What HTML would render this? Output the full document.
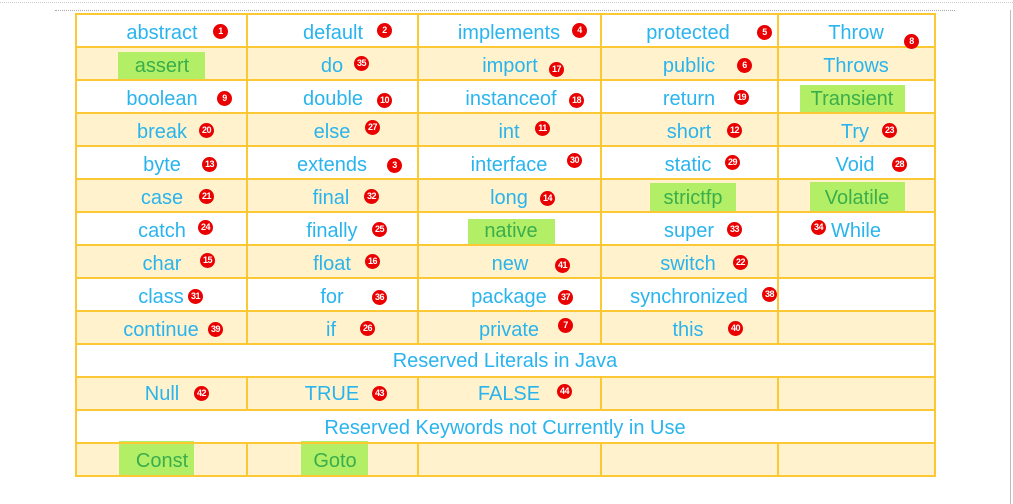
<!DOCTYPE html>
<html><head><meta charset="utf-8"><style>
body{margin:0;width:1013px;height:504px;background:#fff;position:relative;overflow:hidden;font-family:"Liberation Sans",sans-serif}
.r{position:absolute;left:75px;width:860px;height:33px;box-sizing:border-box}
.y{background:#fff2cc}
.h{position:absolute;left:75px;width:861px;height:2px;background:#fcc833}
.v{position:absolute;width:2px;background:#fcc833}
.t{position:absolute;font-size:20px;line-height:24px;color:#2ab4ee;white-space:nowrap;text-align:center}
.b{position:absolute;width:15px;height:15px;border-radius:50%;background:#ea0000;color:#fff;font-size:9px;font-weight:bold;text-align:center;line-height:15px;letter-spacing:-0.5px}
.g{position:absolute;background:#b3ef66}
.gt{color:#3aae4c}
</style></head><body>
<div style="position:absolute;left:55px;top:10px;width:900px;border-top:1px dotted #aaa"></div>
<div style="position:absolute;left:0;top:2px;width:1013px;border-top:1px dotted #ccc"></div>
<div style="position:absolute;left:1010px;top:10px;width:1px;height:494px;background:#bbb"></div>

<div class="r" style="top:14px"></div>
<div class="r y" style="top:47px"></div>
<div class="r" style="top:80px"></div>
<div class="r y" style="top:113px"></div>
<div class="r" style="top:146px"></div>
<div class="r y" style="top:179px"></div>
<div class="r" style="top:212px"></div>
<div class="r y" style="top:245px"></div>
<div class="r" style="top:278px"></div>
<div class="r y" style="top:311px"></div>
<div class="r" style="top:344px"></div>
<div class="r y" style="top:377px"></div>
<div class="r" style="top:410px"></div>
<div class="r y" style="top:443px"></div>

<!-- green highlights -->
<div class="g" style="left:118px;top:52px;width:87px;height:27px"></div>
<div class="g" style="left:800px;top:85px;width:105px;height:27px"></div>
<div class="g" style="left:650px;top:183px;width:86px;height:28px"></div>
<div class="g" style="left:810px;top:182px;width:95px;height:30px"></div>
<div class="g" style="left:468px;top:219px;width:87px;height:25px"></div>
<div class="g" style="left:119px;top:441px;width:75px;height:35px"></div>
<div class="g" style="left:301px;top:441px;width:67px;height:35px"></div>

<!-- horizontal lines -->
<div class="h" style="top:13px"></div><div class="h" style="top:46px"></div><div class="h" style="top:79px"></div>
<div class="h" style="top:112px"></div><div class="h" style="top:145px"></div><div class="h" style="top:178px"></div>
<div class="h" style="top:211px"></div><div class="h" style="top:244px"></div><div class="h" style="top:277px"></div>
<div class="h" style="top:310px"></div><div class="h" style="top:343px"></div><div class="h" style="top:376px"></div>
<div class="h" style="top:409px"></div><div class="h" style="top:442px"></div><div class="h" style="top:475px"></div>
<!-- vertical lines -->
<div class="v" style="left:75px;top:13px;height:464px"></div>
<div class="v" style="left:934px;top:13px;height:464px"></div>
<div class="v" style="left:246px;top:13px;height:331px"></div>
<div class="v" style="left:417px;top:13px;height:331px"></div>
<div class="v" style="left:600px;top:13px;height:331px"></div>
<div class="v" style="left:777px;top:13px;height:331px"></div>
<div class="v" style="left:246px;top:377px;height:33px"></div>
<div class="v" style="left:417px;top:377px;height:33px"></div>
<div class="v" style="left:600px;top:377px;height:33px"></div>
<div class="v" style="left:777px;top:377px;height:33px"></div>
<div class="v" style="left:246px;top:443px;height:33px"></div>
<div class="v" style="left:417px;top:443px;height:33px"></div>
<div class="v" style="left:600px;top:443px;height:33px"></div>
<div class="v" style="left:777px;top:443px;height:33px"></div>

<!-- row 1 -->
<div class="t" style="left:112px;width:100px;top:21px">abstract</div><div class="b" style="left:213px;top:24px">1</div>
<div class="t" style="left:283px;width:100px;top:21px">default</div><div class="b" style="left:377px;top:23px">2</div>
<div class="t" style="left:449px;width:120px;top:21px">implements</div><div class="b" style="left:572px;top:23px">4</div>
<div class="t" style="left:628px;width:120px;top:21px">protected</div><div class="b" style="left:757px;top:25px">5</div>
<div class="t" style="left:806px;width:100px;top:21px">Throw</div><div class="b" style="left:904px;top:34px">8</div>
<!-- row 2 -->
<div class="t gt" style="left:112px;width:100px;top:54px">assert</div>
<div class="t" style="left:302px;width:60px;top:54px">do</div><div class="b" style="left:354px;top:56px">35</div>
<div class="t" style="left:460px;width:100px;top:54px">import</div><div class="b" style="left:549px;top:62px">17</div>
<div class="t" style="left:639px;width:100px;top:54px">public</div><div class="b" style="left:737px;top:58px">6</div>
<div class="t" style="left:796px;width:120px;top:54px">Throws</div>
<!-- row 3 -->
<div class="t" style="left:112px;width:100px;top:87px">boolean</div><div class="b" style="left:217px;top:91px">9</div>
<div class="t" style="left:283px;width:100px;top:87px">double</div><div class="b" style="left:377px;top:93px">10</div>
<div class="t" style="left:451px;width:120px;top:87px">instanceof</div><div class="b" style="left:569px;top:93px">18</div>
<div class="t" style="left:639px;width:100px;top:87px">return</div><div class="b" style="left:734px;top:90px">19</div>
<div class="t gt" style="left:796px;width:112px;top:87px">Transient</div>
<!-- row 4 -->
<div class="t" style="left:112px;width:100px;top:120px">break</div><div class="b" style="left:199px;top:123px">20</div>
<div class="t" style="left:282px;width:100px;top:120px">else</div><div class="b" style="left:365px;top:120px">27</div>
<div class="t" style="left:459px;width:100px;top:120px">int</div><div class="b" style="left:535px;top:121px">11</div>
<div class="t" style="left:639px;width:100px;top:120px">short</div><div class="b" style="left:727px;top:123px">12</div>
<div class="t" style="left:805px;width:100px;top:120px">Try</div><div class="b" style="left:882px;top:123px">23</div>
<!-- row 5 -->
<div class="t" style="left:112px;width:100px;top:153px">byte</div><div class="b" style="left:202px;top:157px">13</div>
<div class="t" style="left:282px;width:100px;top:153px">extends</div><div class="b" style="left:387px;top:158px">3</div>
<div class="t" style="left:449px;width:120px;top:153px">interface</div><div class="b" style="left:567px;top:153px">30</div>
<div class="t" style="left:638px;width:100px;top:153px">static</div><div class="b" style="left:725px;top:155px">29</div>
<div class="t" style="left:805px;width:100px;top:153px">Void</div><div class="b" style="left:892px;top:157px">28</div>
<!-- row 6 -->
<div class="t" style="left:112px;width:100px;top:186px">case</div><div class="b" style="left:199px;top:189px">21</div>
<div class="t" style="left:281px;width:100px;top:186px">final</div><div class="b" style="left:364px;top:189px">32</div>
<div class="t" style="left:459px;width:100px;top:186px">long</div><div class="b" style="left:540px;top:191px">14</div>
<div class="t gt" style="left:643px;width:100px;top:186px">strictfp</div>
<div class="t gt" style="left:807px;width:100px;top:186px">Volatile</div>
<!-- row 7 -->
<div class="t" style="left:112px;width:100px;top:219px">catch</div><div class="b" style="left:198px;top:220px">24</div>
<div class="t" style="left:282px;width:100px;top:219px">finally</div><div class="b" style="left:372px;top:222px">25</div>
<div class="t gt" style="left:461px;width:100px;top:219px">native</div>
<div class="t" style="left:639px;width:100px;top:219px">super</div><div class="b" style="left:727px;top:222px">33</div>
<div class="b" style="left:811px;top:220px">34</div><div class="t" style="left:826px;width:60px;top:219px">While</div>
<!-- row 8 -->
<div class="t" style="left:112px;width:100px;top:252px">char</div><div class="b" style="left:200px;top:253px">15</div>
<div class="t" style="left:282px;width:100px;top:252px">float</div><div class="b" style="left:365px;top:254px">16</div>
<div class="t" style="left:460px;width:100px;top:252px">new</div><div class="b" style="left:555px;top:258px">41</div>
<div class="t" style="left:638px;width:100px;top:252px">switch</div><div class="b" style="left:733px;top:255px">22</div>
<!-- row 9 -->
<div class="t" style="left:111px;width:100px;top:285px">class</div><div class="b" style="left:188px;top:289px">31</div>
<div class="t" style="left:282px;width:100px;top:285px">for</div><div class="b" style="left:372px;top:290px">36</div>
<div class="t" style="left:449px;width:120px;top:285px">package</div><div class="b" style="left:558px;top:290px">37</div>
<div class="t" style="left:619px;width:140px;top:285px">synchronized</div><div class="b" style="left:762px;top:287px">38</div>
<!-- row 10 -->
<div class="t" style="left:111px;width:100px;top:318px">continue</div><div class="b" style="left:208px;top:322px">39</div>
<div class="t" style="left:281px;width:100px;top:318px">if</div><div class="b" style="left:360px;top:321px">26</div>
<div class="t" style="left:459px;width:100px;top:318px">private</div><div class="b" style="left:558px;top:318px">7</div>
<div class="t" style="left:638px;width:100px;top:318px">this</div><div class="b" style="left:728px;top:321px">40</div>
<!-- row 11 -->
<div class="t" style="left:75px;width:860px;top:349px">Reserved Literals in Java</div>
<!-- row 12 -->
<div class="t" style="left:112px;width:100px;top:382px">Null</div><div class="b" style="left:194px;top:386px">42</div>
<div class="t" style="left:282px;width:100px;top:382px">TRUE</div><div class="b" style="left:372px;top:386px">43</div>
<div class="t" style="left:459px;width:100px;top:382px">FALSE</div><div class="b" style="left:557px;top:384px">44</div>
<!-- row 13 -->
<div class="t" style="left:75px;width:860px;top:416px">Reserved Keywords not Currently in Use</div>
<!-- row 14 -->
<div class="t gt" style="left:112px;width:100px;top:449px">Const</div>
<div class="t gt" style="left:285px;width:100px;top:449px">Goto</div>
</body></html>
